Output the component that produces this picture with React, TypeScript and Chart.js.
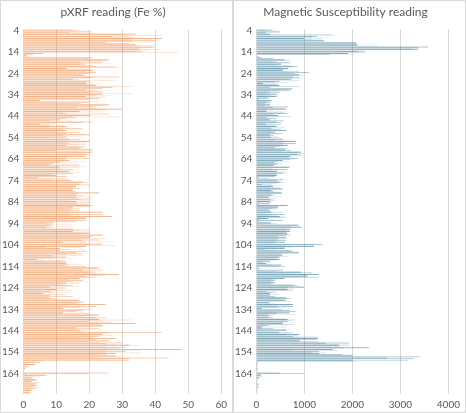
import { useEffect, useRef } from 'react';
import { Chart, registerables } from 'chart.js';

Chart.register(...registerables);

// sample numbers 4..173 (one category per sample)
const samples: string[] = Array.from({ length: 170 }, (_, i) => String(i + 4));

// pXRF Fe % — three readings per sample
const fe1 = [
  15, 20, 34, 27, 42, 40, 25, 34, 39, 35,
  36, 6, 1, 21, 26, 17, 19, 22, 13, 21,
  22, 18, 29, 15, 20, 19, 22, 27, 19, 24,
  24, 19, 23, 5, 20, 26, 22, 30, 17, 13,
  20, 16, 11, 21, 5, 13, 18, 13, 17, 20,
  13, 17, 20, 14, 13, 18, 21, 21, 20, 19,
  20, 14, 11, 8, 11, 15, 14, 15, 10, 4.5,
  14, 18, 17, 16, 17, 15, 23, 16, 16, 17,
  16, 16, 21, 15, 15, 24, 24, 27, 19, 19,
  9, 9, 7, 15, 15, 20, 24, 20, 23, 12,
  24, 19, 11, 11, 16, 18, 13, 4, 12, 13,
  13, 23, 24, 20, 29, 19, 17, 18, 13, 13,
  8, 10, 8, 6, 8, 8, 17, 18, 25, 22,
  12, 18, 12, 23, 22, 23, 20, 34, 24, 16,
  17, 42, 24, 23, 28, 26, 30, 32, 31, 48,
  31, 28, 28, 44, 32, 5, 3.5, 1, 0.5, 0,
  25.5, 6.5, 2.5, 3.5, 2.5, 4, 4, 3, 2.5, 2,
];
const fe2 = [
  17, 14, 30, 32, 33, 33, 32, 40, 40, 41,
  34, 3, 1, 20, 25, 24, 17, 28, 20, 19,
  20, 19, 21, 17, 19, 21, 33, 24, 22, 20,
  22, 25, 20, 23, 17, 24, 16, 25, 24, 26,
  15, 13, 8, 18, 8, 8, 12, 10, 13, 12,
  8, 14, 13, 19, 19, 17, 10, 20, 19, 14,
  13, 12, 9, 17, 17, 11, 13, 9, 13, 13,
  15, 20, 20, 15, 15, 16, 17, 18, 17, 20,
  21, 20, 20, 17, 17, 17, 17, 19, 17, 16,
  7, 8, 9, 20, 20, 24, 21, 25, 18, 19,
  20, 7, 14, 19, 18, 9, 9, 6, 13, 14,
  19, 22, 18, 22, 23, 22, 14, 15, 17, 15,
  13, 12, 9, 12, 15, 10, 17, 16, 19, 17,
  21, 16, 20, 21, 25, 33, 27, 23, 24, 23,
  20, 26, 20, 21, 22, 20, 25, 35, 29, 36,
  25, 25, 30, 32, 6, 3.5, 3, 1.5, 0.3, 0.2,
  20, 7.5, 3, 4.5, 5, 3.5, 2.5, 4, 3, 2.5,
];
const fe3 = [
  21, 21, 42, 34, 39, 40, 34, 35, 36, 38,
  47, 2, 3, 21, 24, 27, 21, 30, 23, 22,
  23, 22, 20, 28, 21, 23, 27, 22, 25, 33,
  27, 24, 23, 10, 25, 21, 23, 19, 12, 16,
  30, 14, 15, 10, 12, 14, 17, 12, 19, 18,
  14, 20, 19, 16, 17, 19, 17, 19, 18, 13,
  12, 19, 17, 19, 12, 17, 17, 13, 16, 9,
  18, 17, 16, 16, 15, 15, 16, 21, 21, 14,
  20, 19, 15, 14, 14, 14, 14, 17, 13, 14,
  15, 15, 15, 17, 17, 17, 20, 17, 28, 24,
  28, 17, 19, 16, 13, 10, 16, 13, 14, 18,
  14, 18, 22, 25, 25, 20, 19, 20, 11, 17,
  13, 15, 14, 13, 7, 11, 19, 17, 13, 20,
  20, 19, 22, 18, 23, 24, 23, 25, 20, 24,
  19, 24, 27, 17, 17, 23, 28, 25, 26, 25,
  36, 21, 23, 25, 5, 1, 2, 0.5, 0.2, 0.5,
  1, 5, 2.5, 4, 3, 4.5, 5, 2, 2, 1.5,
];

// magnetic susceptibility — three readings per sample
const ms1 = [
  330, 480, 280, 1260, 1000, 1400, 2080, 2100, 3580, 3370,
  2120, 1910, 0, 110, 590, 420, 520, 860, 660, 550,
  1100, 890, 760, 730, 480, 140, 480, 280, 720, 280,
  420, 420, 250, 310, 280, 280, 650, 620, 210, 650,
  450, 210, 280, 420, 200, 420, 310, 620, 380, 280,
  300, 550, 830, 820, 650, 380, 590, 930, 860, 700,
  860, 550, 380, 380, 690, 650, 420, 550, 420, 40,
  550, 480, 110, 350, 520, 310, 520, 310, 250, 280,
  280, 280, 650, 450, 250, 310, 590, 490, 250, 550,
  300, 890, 930, 720, 700, 640, 620, 620, 450, 590,
  1370, 1200, 590, 720, 890, 520, 480, 480, 280, 210,
  520, 40, 40, 930, 1300, 1060, 590, 380, 380, 760,
  990, 650, 210, 280, 280, 620, 620, 280, 760, 760,
  110, 690, 690, 250, 250, 650, 650, 550, 250, 110,
  620, 480, 900, 760, 1280, 900, 1930, 1720, 2350, 1590,
  1310, 1310, 2000, 2720, 2000, 30, 20, 25, 20, 10,
  480, 100, 60, 20, 10, 30, 20, 30, 15, 10,
];
const ms2 = [
  210, 200, 1570, 1160, 1370, 1430, 2080, 2100, 3370, 3240,
  2290, 1540, 40, 350, 720, 690, 450, 760, 560, 890,
  800, 960, 900, 650, 380, 450, 920, 760, 480, 480,
  300, 210, 40, 210, 180, 180, 350, 210, 590, 350,
  720, 420, 560, 520, 520, 300, 520, 400, 550, 350,
  480, 400, 560, 550, 480, 650, 720, 860, 930, 760,
  700, 460, 450, 350, 650, 440, 590, 420, 380, 250,
  420, 590, 320, 280, 550, 350, 550, 350, 280, 350,
  320, 40, 450, 320, 280, 550, 420, 590, 80, 40,
  420, 860, 720, 620, 620, 680, 450, 450, 620, 380,
  1200, 590, 180, 760, 520, 550, 420, 420, 140, 520,
  590, 80, 550, 1160, 1060, 1300, 350, 310, 310, 860,
  650, 790, 420, 450, 380, 720, 550, 250, 720, 450,
  550, 820, 420, 350, 350, 820, 550, 790, 140, 350,
  70, 760, 620, 1280, 1250, 1280, 1450, 1930, 1830, 760,
  1170, 1790, 3410, 3280, 3150, 20, 30, 15, 30, 25,
  1000, 60, 40, 10, 20, 60, 40, 20, 30, 20,
];
const ms3 = [
  480, 160, 1640, 1570, 1160, 1000, 2520, 2520, 3240, 2250,
  2250, 2120, 60, 40, 350, 720, 690, 520, 760, 660,
  890, 800, 960, 900, 650, 380, 420, 650, 650, 200,
  480, 300, 100, 350, 350, 320, 560, 350, 560, 420,
  500, 420, 560, 350, 380, 580, 400, 310, 420, 460,
  560, 760, 600, 650, 550, 470, 520, 990, 1000, 640,
  800, 690, 550, 310, 320, 320, 650, 450, 460, 650,
  460, 420, 550, 480, 420, 520, 420, 520, 420, 420,
  80, 280, 420, 410, 380, 180, 280, 420, 350, 110,
  200, 720, 690, 690, 660, 720, 690, 590, 380, 420,
  590, 760, 420, 890, 550, 650, 520, 310, 310, 310,
  420, 550, 420, 820, 1060, 860, 480, 420, 290, 790,
  790, 720, 320, 280, 450, 550, 720, 380, 450, 590,
  520, 420, 820, 300, 650, 720, 790, 650, 620, 720,
  480, 620, 860, 900, 900, 1450, 1930, 1750, 2300, 1700,
  1450, 2030, 3380, 3240, 2100, 40, 10, 30, 15, 20,
  100, 120, 80, 30, 15, 20, 80, 10, 20, 5,
];

const FONT = 'Lato, "Open Sans", sans-serif';
const TEXT = '#595959';

interface PanelProps {
  title: string;
  series: number[][];
  colors: string[];
  max: number;
  step: number;
  padRight: number;
}

function BarPanel({ title, series, colors, max, step, padRight }: PanelProps) {
  const canvasRef = useRef<HTMLCanvasElement>(null);

  useEffect(() => {
    const canvas = canvasRef.current;
    if (!canvas) return;
    const chart = new Chart(canvas, {
      type: 'bar',
      data: {
        labels: samples,
        datasets: series.map((d, i) => ({
          label: 'Reading ' + (i + 1),
          data: d,
          backgroundColor: colors[i],
          borderWidth: 0,
          categoryPercentage: 0.9,
          barPercentage: 1,
        })),
      },
      options: {
        indexAxis: 'y',
        responsive: true,
        maintainAspectRatio: false,
        animation: false,
        layout: { padding: { left: -3, right: padRight, top: 0, bottom: -4 } },
        plugins: {
          legend: { display: false },
          tooltip: { enabled: false },
          title: {
            display: true,
            text: title,
            color: TEXT,
            font: { family: FONT, size: 12, weight: 'normal' },
            padding: { top: 4, bottom: 10 },
          },
        },
        scales: {
          x: {
            min: 0,
            max,
            ticks: {
              stepSize: step,
              color: TEXT,
              font: { family: FONT, size: 10 },
              padding: 5,
              callback: (v) => String(v),
            },
            grid: { color: '#D9D9D9', drawTicks: false },
            border: { display: false },
          },
          y: {
            ticks: {
              autoSkip: false,
              color: TEXT,
              font: { family: FONT, size: 10 },
              padding: 4,
              callback: (_v, i) => (i % 10 === 0 ? samples[i] : ''),
            },
            grid: { display: false, drawTicks: false },
            border: { display: false },
          },
        },
      },
    });
    return () => chart.destroy();
    // eslint-disable-next-line react-hooks/exhaustive-deps
  }, []);

  return (
    <div style={{ width: 233, height: 413, border: '1px solid #D9D9D9', boxSizing: 'border-box', position: 'relative', background: '#fff' }}>
      <canvas ref={canvasRef} />
    </div>
  );
}

export default function App() {
  return (
    <div style={{ position: 'fixed', left: 0, top: 0, width: 466, height: 413, display: 'flex', background: '#fff' }}>
      <BarPanel
        title="pXRF reading (Fe %)"
        series={[fe1, fe2, fe3]}
        colors={['rgba(237,125,49,0.72)', 'rgba(237,125,49,0.42)', 'rgba(237,125,49,0.22)']}
        max={60}
        step={10}
        padRight={4}
      />
      <BarPanel
        title="Magnetic Susceptibility reading"
        series={[ms1, ms2, ms3]}
        colors={['rgba(50,115,145,0.78)', 'rgba(50,115,145,0.42)', 'rgba(50,115,145,0.2)']}
        max={4000}
        step={1000}
        padRight={5}
      />
    </div>
  );
}
